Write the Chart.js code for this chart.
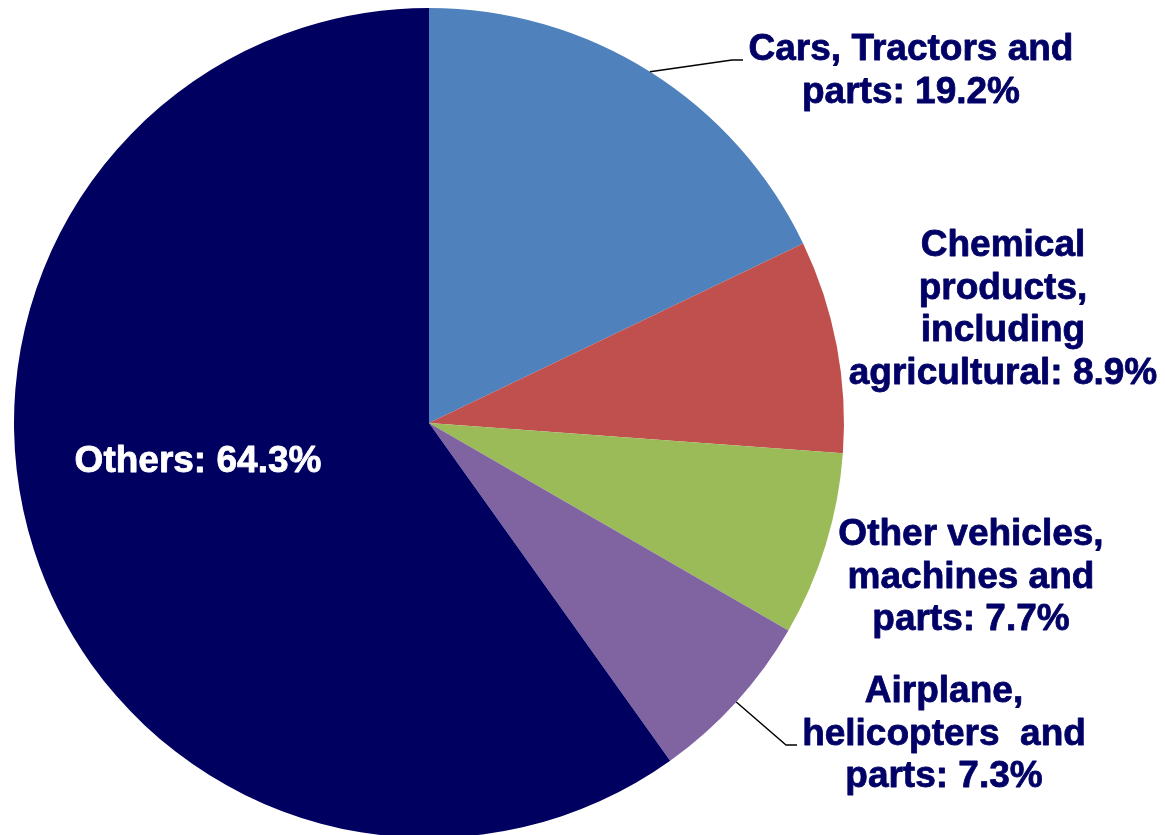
<!DOCTYPE html>
<html>
<head>
<meta charset="utf-8">
<script src="https://cdn.jsdelivr.net/npm/chart.js@4.4.1/dist/chart.umd.min.js"></script>
<style>
  html, body { margin: 0; padding: 0; background: #ffffff; overflow: hidden; }
  #wrap { position: relative; width: 1165px; height: 850px; }
</style>
</head>
<body>
<div id="wrap"><canvas id="c" width="1165" height="850"></canvas></div>
<script>
// ---- data ----
const categories = [
  "Cars, Tractors and parts",
  "Chemical products, including agricultural",
  "Other vehicles, machines and parts",
  "Airplane, helicopters and parts",
  "Others"
];
const shares = [19.2, 8.9, 7.7, 7.3, 64.3];
const labelLines = [
  ["Cars, Tractors and", "parts: 19.2%"],
  ["Chemical", "products,", "including", "agricultural: 8.9%"],
  ["Other vehicles,", "machines and", "parts: 7.7%"],
  ["Airplane,", "helicopters  and", "parts: 7.3%"],
  ["Others: 64.3%"]
];
const sliceColors = ["#4F81BD", "#C0504D", "#9BBB59", "#8064A2", "#000060"];

// ---- label layout (positions only) ----
const labelLayout = [
  { x: 911, y: 60,  color: "#000066", leader: [[732, 60], [743, 60]] },
  { x: 1003, y: 256, color: "#000066" },
  { x: 971, y: 545, color: "#000066" },
  { x: 944, y: 702, color: "#000066", leader: [[786, 745], [797, 745]] },
  { x: 198, y: 472, color: "#ffffff" }
];

const labelPlugin = {
  id: "sliceLabels",
  afterDatasetsDraw(chart) {
    const ctx = chart.ctx;
    const meta = chart.getDatasetMeta(0);
    ctx.save();
    meta.data.forEach((arc, i) => {
      const L = labelLayout[i];
      if (L.leader) {
        const mid = (arc.startAngle + arc.endAngle) / 2;
        const sx = arc.x + Math.cos(mid) * arc.outerRadius;
        const sy = arc.y + Math.sin(mid) * arc.outerRadius;
        ctx.beginPath();
        ctx.moveTo(sx, sy);
        L.leader.forEach(p => ctx.lineTo(p[0], p[1]));
        ctx.strokeStyle = "#000000";
        ctx.lineWidth = 1.5;
        ctx.stroke();
      }
      ctx.fillStyle = L.color;
      ctx.strokeStyle = L.color;
      ctx.lineWidth = 0.8;
      ctx.lineJoin = "round";
      ctx.font = "bold 37px 'Liberation Sans', Arial, sans-serif";
      ctx.textAlign = "center";
      ctx.textBaseline = "alphabetic";
      labelLines[i].forEach((t, k) => {
        ctx.fillText(t, L.x, L.y + k * 42.5);
        ctx.strokeText(t, L.x, L.y + k * 42.5);
      });
    });
    ctx.restore();
  }
};

new Chart(document.getElementById("c"), {
  type: "pie",
  data: {
    labels: categories,
    datasets: [{
      data: shares,
      backgroundColor: sliceColors,
      borderWidth: 0,
      hoverOffset: 0,
      offset: 0
    }]
  },
  options: {
    responsive: false,
    animation: false,
    events: [],
    layout: { padding: { left: 14, top: 8, right: 321, bottom: 12 } },
    plugins: {
      legend: { display: false },
      tooltip: { enabled: false }
    }
  },
  plugins: [labelPlugin]
});
</script>
</body>
</html>
